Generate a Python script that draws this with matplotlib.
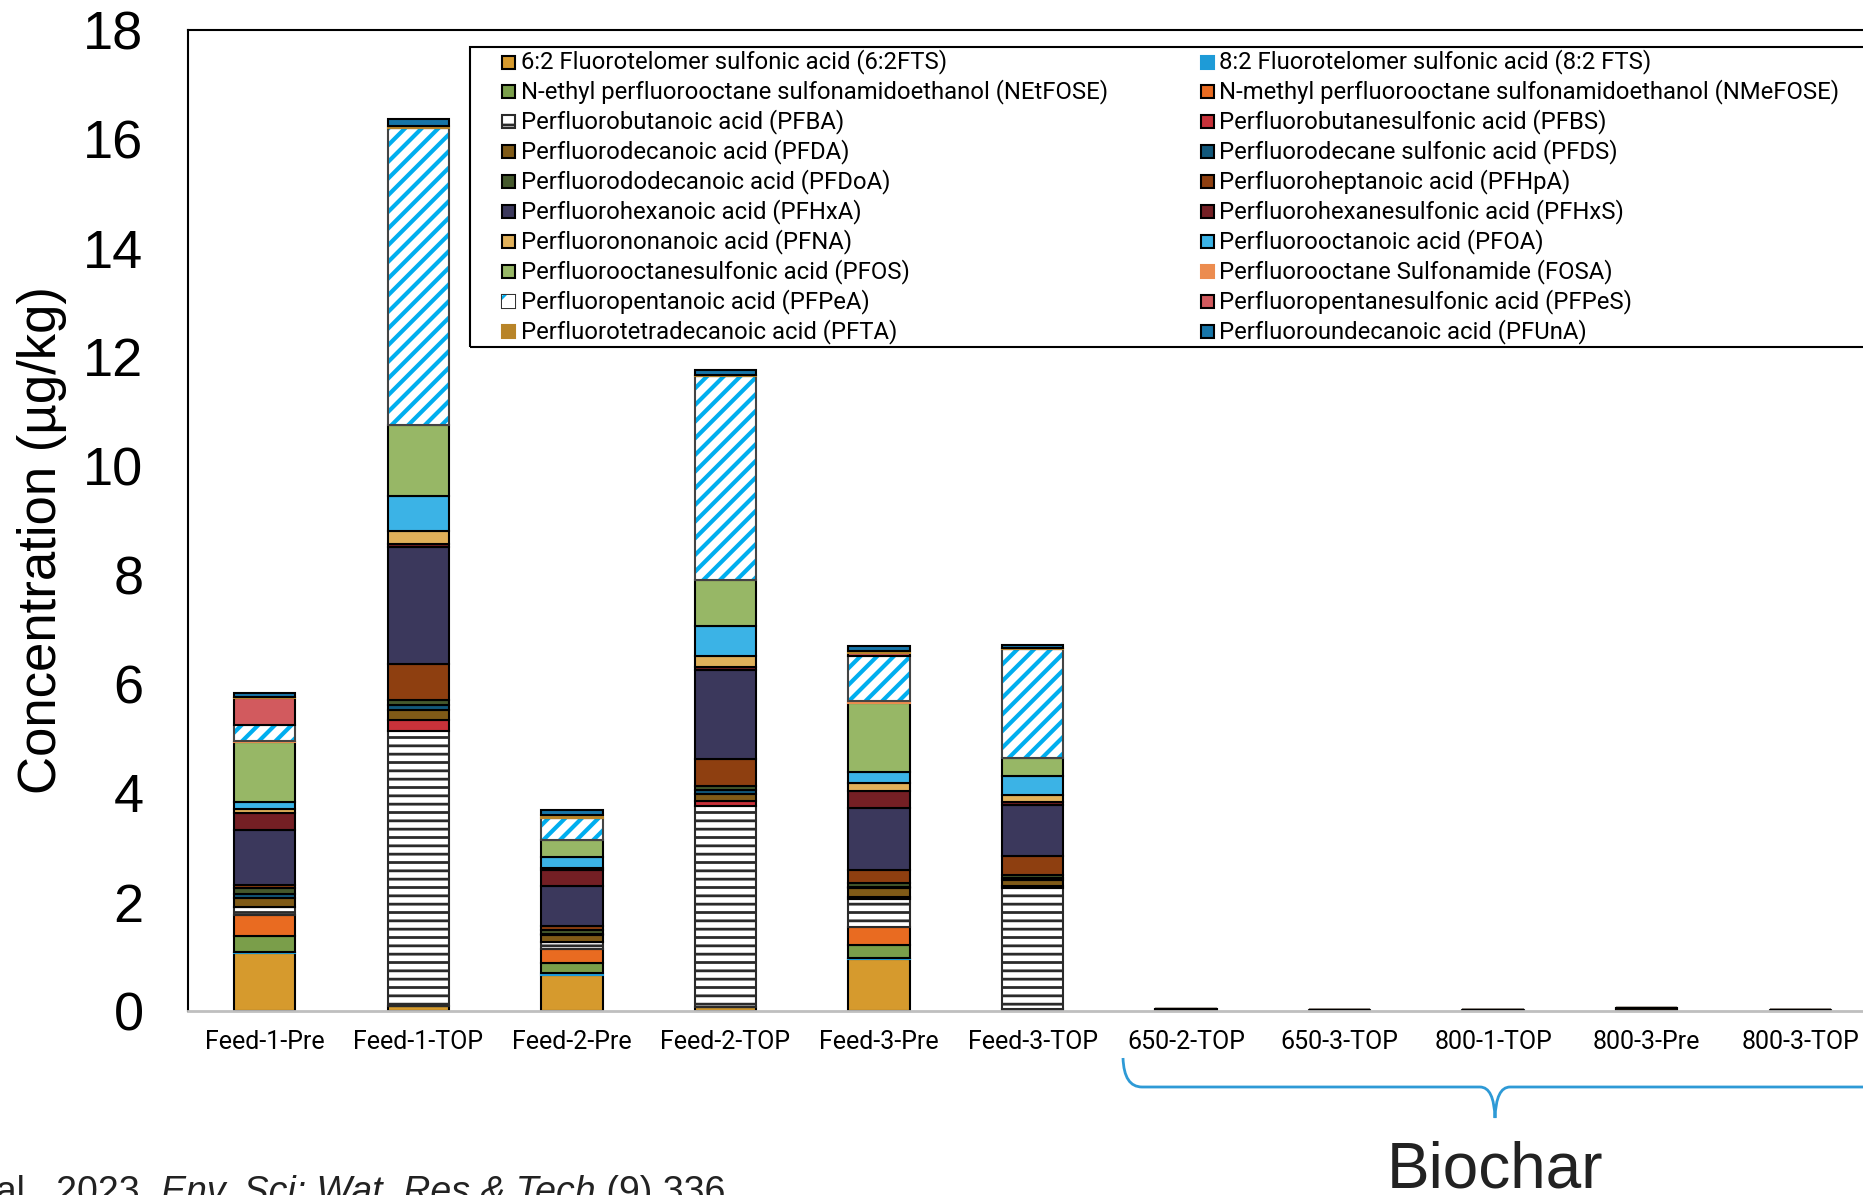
import matplotlib
matplotlib.use("Agg")
import matplotlib.pyplot as plt
from matplotlib.patches import Rectangle, PathPatch
from matplotlib.path import Path
import numpy as np

W, H = 1863, 1195

samples = ["Feed-1-Pre", "Feed-1-TOP", "Feed-2-Pre", "Feed-2-TOP", "Feed-3-Pre",
           "Feed-3-TOP", "650-2-TOP", "650-3-TOP", "800-1-TOP", "800-3-Pre", "800-3-TOP"]

# concentrations (ug/kg), one list per compound, in stacking order
fts62   = [1.06, 0.10, 0.66, 0.08, 0.95, 0.03, 0.00, 0.00, 0.00, 0.00, 0.00]
fts82   = [0.03, 0.00, 0.03, 0.00, 0.03, 0.00, 0.00, 0.00, 0.00, 0.00, 0.00]
netfose = [0.29, 0.00, 0.19, 0.00, 0.23, 0.00, 0.00, 0.00, 0.00, 0.00, 0.00]
nmefose = [0.38, 0.00, 0.25, 0.00, 0.33, 0.00, 0.00, 0.00, 0.00, 0.00, 0.00]
pfba    = [0.14, 5.03, 0.14, 3.68, 0.51, 2.22, 0.02, 0.01, 0.01, 0.03, 0.01]
pfbs    = [0.00, 0.21, 0.00, 0.10, 0.04, 0.04, 0.00, 0.00, 0.00, 0.00, 0.00]
pfda    = [0.17, 0.18, 0.12, 0.12, 0.16, 0.11, 0.00, 0.00, 0.00, 0.00, 0.00]
pfds    = [0.07, 0.09, 0.03, 0.08, 0.03, 0.04, 0.00, 0.00, 0.00, 0.00, 0.00]
pfdoa   = [0.11, 0.10, 0.07, 0.06, 0.07, 0.06, 0.00, 0.00, 0.00, 0.00, 0.00]
pfhpa   = [0.07, 0.66, 0.07, 0.50, 0.24, 0.34, 0.00, 0.00, 0.00, 0.00, 0.00]
pfhxa   = [1.00, 2.14, 0.73, 1.64, 1.14, 0.94, 0.01, 0.01, 0.01, 0.02, 0.01]
pfhxs   = [0.31, 0.05, 0.30, 0.05, 0.31, 0.06, 0.00, 0.00, 0.00, 0.00, 0.00]
pfna    = [0.07, 0.24, 0.04, 0.21, 0.14, 0.12, 0.00, 0.00, 0.00, 0.00, 0.00]
pfoa    = [0.13, 0.65, 0.19, 0.54, 0.21, 0.35, 0.00, 0.00, 0.00, 0.00, 0.00]
pfos    = [1.10, 1.30, 0.32, 0.85, 1.26, 0.33, 0.00, 0.00, 0.00, 0.00, 0.00]
fosa    = [0.03, 0.00, 0.00, 0.00, 0.04, 0.00, 0.00, 0.00, 0.00, 0.00, 0.00]
pfpea   = [0.29, 5.46, 0.41, 3.74, 0.83, 2.00, 0.00, 0.00, 0.00, 0.00, 0.00]
pfpes   = [0.50, 0.00, 0.00, 0.00, 0.04, 0.00, 0.00, 0.00, 0.00, 0.00, 0.00]
pfta    = [0.02, 0.03, 0.05, 0.02, 0.05, 0.02, 0.00, 0.00, 0.00, 0.00, 0.00]
pfuna   = [0.07, 0.12, 0.09, 0.09, 0.09, 0.06, 0.00, 0.00, 0.00, 0.00, 0.00]

labels = [
    "6:2 Fluorotelomer sulfonic acid (6:2FTS)",
    "8:2 Fluorotelomer sulfonic acid (8:2 FTS)",
    "N-ethyl perfluorooctane sulfonamidoethanol (NEtFOSE)",
    "N-methyl perfluorooctane sulfonamidoethanol (NMeFOSE)",
    "Perfluorobutanoic acid (PFBA)",
    "Perfluorobutanesulfonic acid (PFBS)",
    "Perfluorodecanoic acid (PFDA)",
    "Perfluorodecane sulfonic acid (PFDS)",
    "Perfluorododecanoic acid (PFDoA)",
    "Perfluoroheptanoic acid (PFHpA)",
    "Perfluorohexanoic acid (PFHxA)",
    "Perfluorohexanesulfonic acid (PFHxS)",
    "Perfluorononanoic acid (PFNA)",
    "Perfluorooctanoic acid (PFOA)",
    "Perfluorooctanesulfonic acid (PFOS)",
    "Perfluorooctane Sulfonamide (FOSA)",
    "Perfluoropentanoic acid (PFPeA)",
    "Perfluoropentanesulfonic acid (PFPeS)",
    "Perfluorotetradecanoic acid (PFTA)",
    "Perfluoroundecanoic acid (PFUnA)",
]
series = [fts62, fts82, netfose, nmefose, pfba, pfbs, pfda, pfds, pfdoa, pfhpa,
          pfhxa, pfhxs, pfna, pfoa, pfos, fosa, pfpea, pfpes, pfta, pfuna]
colors = ["#D69A2D", "#1E9BD7", "#7A9E4A", "#E96B21", "white", "#C8323A",
          "#7F5A17", "#11577A", "#44582C", "#8E3F10", "#3B385C", "#741F24",
          "#E0B05A", "#3BB3E6", "#97B766", "#EC8C4F", "white", "#D25A5E",
          "#B88428", "#1775A8"]
edged = [True, False, True, True, True, True, True, True, True, True,
         True, True, True, True, True, False, True, True, False, True]
PFBA, PFPEA = 4, 16
STRIPE = "#00AEEF"

plt.rcParams["hatch.linewidth"] = 2.0

fig = plt.figure(figsize=(W / 100, H / 100), dpi=100)
ax = fig.add_axes([188 / W, 1 - 1011 / H, (1877 - 188) / W, (1011 - 30) / H])

x = np.arange(len(samples))
bw = 0.40
bottom = np.zeros(len(samples))
for i, vals in enumerate(series):
    vals = np.array(vals)
    if i == PFBA:
        bars = ax.bar(x, vals, bw, bottom=bottom, color="white", edgecolor="#2a2a2a",
                      hatch="--", linewidth=1.5)
        for b in bars:
            if hasattr(b, "set_hatch_linewidth"):
                b.set_hatch_linewidth(2.0)
    elif i == PFPEA:
        bars = ax.bar(x, vals, bw, bottom=bottom, color="white", edgecolor=STRIPE,
                      hatch="//", linewidth=0)
        for b in bars:
            if hasattr(b, "set_hatch_linewidth"):
                b.set_hatch_linewidth(3.0)
        ax.bar(x, vals, bw, bottom=bottom, fill=False, edgecolor="#444444", linewidth=1.5)
    else:
        ax.bar(x, vals, bw, bottom=bottom, color=colors[i],
               edgecolor="black" if edged[i] else colors[i], linewidth=1.5)
    bottom += vals

ax.set_xlim(-0.5, len(samples) - 0.5)
ax.set_ylim(0, 18)
ax.set_yticks(range(0, 19, 2))
ax.set_xticks(x)
ax.set_xticklabels(samples, fontfamily="Roboto", fontsize=18)
ax.tick_params(axis="x", length=0, pad=14)
ax.tick_params(axis="y", length=0, pad=32, labelsize=39)
for t in ax.get_yticklabels():
    t.set_fontfamily("Liberation Sans")
for s in ("left", "top"):
    ax.spines[s].set_color("black")
    ax.spines[s].set_linewidth(1.5)
ax.spines["bottom"].set_color("#BFBFBF")
ax.spines["bottom"].set_linewidth(2)
ax.spines["right"].set_visible(False)

fig.text(42 / W, 1 - 540 / H, "Concentration (\u00b5g/kg)", rotation=90,
         ha="center", va="center", fontsize=38, fontfamily="Liberation Sans")


def fpt(px, py):
    return px / W, 1 - py / H


# legend box, two columns read row by row
x0, y0 = fpt(470, 347)
fig.patches.append(Rectangle((x0, y0), 1.2, (347 - 47) / H, transform=fig.transFigure,
                             fill=False, edgecolor="black", linewidth=1.5, zorder=5))
msz = 13
for i, name in enumerate(labels):
    row, col = divmod(i, 2)
    yc = 62 + row * 29.9
    mx = 502 if col == 0 else 1201
    tx = 521 if col == 0 else 1219
    rx, ry = fpt(mx, yc + msz / 2)
    kw = dict(transform=fig.transFigure, zorder=6)
    if i == PFBA:
        r = Rectangle((rx, ry), msz / W, msz / H, facecolor="white", edgecolor="#2a2a2a",
                      hatch="-", linewidth=1.5, **kw)
    elif i == PFPEA:
        r = Rectangle((rx, ry), msz / W, msz / H, facecolor="white", edgecolor=STRIPE,
                      hatch="/", linewidth=0, **kw)
        fig.patches.append(Rectangle((rx, ry), msz / W, msz / H, fill=False,
                                     edgecolor="#333333", linewidth=1.5, **kw))
    else:
        r = Rectangle((rx, ry), msz / W, msz / H, facecolor=colors[i],
                      edgecolor="black" if edged[i] else colors[i], linewidth=1.5, **kw)
    fig.patches.append(r)
    fig.text(*fpt(tx, yc), name, ha="left", va="center", fontsize=17.2,
             fontfamily="Roboto", zorder=6)

# brace under the biochar samples
pts = [(1123, 1058), (1124, 1087), (1142, 1087), (1480, 1087), (1494, 1087),
       (1495, 1118), (1496, 1087), (1510, 1087), (1900, 1087)]
codes = [Path.MOVETO, Path.CURVE3, Path.CURVE3, Path.LINETO, Path.CURVE3,
         Path.CURVE3, Path.CURVE3, Path.CURVE3, Path.LINETO]
brace = Path([fpt(px, py) for px, py in pts], codes)
fig.patches.append(PathPatch(brace, transform=fig.transFigure, fill=False,
                             edgecolor="#2E9AD6", linewidth=2))
fig.text(*fpt(1495, 1140), "Biochar", ha="center", va="top", fontsize=46,
         fontfamily="Liberation Sans", color="#222222")

# citation line, pieced together right to left
renderer = fig.canvas.get_renderer()
parts = [("et al., 2023, ", "normal"), ("Env. Sci: Wat. Res & Tech", "italic"),
         (" (9) 336", "normal")]
right = 725 / W
base = 1 - 1203 / H
for text, style in reversed(parts):
    t = fig.text(right, base, text, ha="right", va="baseline", fontsize=27,
                 fontstyle=style, fontfamily="Liberation Sans", color="#222222")
    bb = t.get_window_extent(renderer)
    right -= bb.width / (W)

fig.savefig("out.png", dpi=100)
